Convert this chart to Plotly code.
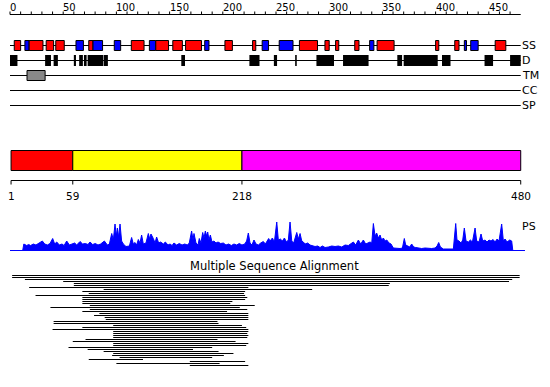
import plotly.graph_objects as go

# ---------------- data ----------------
seq_len = 480
ruler_ticks = list(range(0, 480, 10))
ruler_labels = list(range(0, 451, 50))

# secondary structure: H = helix (red), E = strand (blue)
ss_start = [4, 14, 18, 34, 43, 62, 74, 78, 98, 114, 131, 137, 153, 165, 183, 202, 228, 237,
            253, 272, 296, 306, 324, 338, 345, 400, 418, 427, 433, 456]
ss_end = [10, 18, 31, 41, 51, 69, 78, 87, 104, 126, 137, 149, 162, 180, 187, 209, 231, 243,
          266, 289, 300, 309, 328, 342, 361, 403, 422, 429, 440, 466]
ss_type = ["H", "E", "H", "H", "H", "E", "H", "E", "E", "H", "E", "H", "H", "H", "E", "H", "H", "E",
           "E", "H", "H", "H", "H", "E", "H", "H", "H", "E", "E", "H"]

# disorder
dis_start = [0, 33, 41, 60, 65, 69.5, 73, 88, 161, 225, 248, 268, 288, 313, 364, 370, 406, 446, 470]
dis_end = [7, 38.5, 45, 62, 68.5, 72, 87.5, 92, 164.5, 234.5, 251, 269.5, 304.5, 337, 368.5, 402, 414, 454, 480]

# transmembrane
tm_start = [16]
tm_end = [33]

track_names = ["SS", "D", "TM", "CC", "SP"]

# domains
domain_bounds = [1, 59, 218, 480]

# PS profile
ps_pos = [12, 13, 15.7, 17.5, 19.4, 21.9, 24.4, 26.6, 30.4, 32.6, 35.1, 37.6, 40.1, 42, 43.9, 46.4,
          48.9, 50.8, 53.3, 55.8, 58.3, 60.8, 62.7, 65.8, 68.3, 70.8, 73.3, 75.2, 77.7, 80.2, 82.7,
          85.2, 88.7, 91.5, 93.4, 95.6, 97.1, 98.7, 99.9, 100.9, 102.1, 103.4, 104.9, 106.5, 109,
          112.2, 114.3, 115.9, 117.5, 119, 120.6, 122.2, 123.7, 125.3, 127.8, 130, 131.3, 132.5,
          134.7, 136.3, 137.8, 139.7, 141.6, 144.1, 146, 148.5, 150.4, 152.3, 154.1, 156.6, 159.1,
          161.7, 164.2, 166.7, 168.5, 170.7, 172, 172.9, 174.8, 176.7, 177.9, 179.5, 181.1, 182.3,
          183.6, 184.8, 185.8, 187, 188.3, 189.8, 191.7, 193.6, 195.5, 198, 200.5, 203, 205.5, 208,
          210.5, 213, 215.5, 218, 220.6, 222.4, 224, 225.6, 227.4, 229.3, 231.2, 233.4, 235.6,
          238.1, 240, 241.9, 243.1, 244.4, 246.6, 248.5, 250.7, 252.2, 254.1, 256, 257.9, 259.8,
          261.6, 263.2, 264.8, 266.6, 267.9, 269.5, 271, 272.6, 274.2, 275.7, 277.3, 279.8, 282,
          284.2, 286.7, 289.2, 291.4, 293.6, 296.1, 299.2, 302.4, 305.5, 308.6, 311.8, 314.9, 318,
          320.5, 322.7, 324.9, 327.4, 329.6, 332.1, 334.3, 336.2, 338.4, 340, 341.5, 343.1, 344.6,
          346.2, 347.8, 349.3, 350.9, 352.5, 354.1, 356.2, 358.1, 360.3, 363.4, 366.6, 368.8, 370.6,
          371.9, 373.8, 375.7, 377.5, 379.4, 381.3, 383.8, 386.9, 390.1, 393.2, 396.3, 399.5, 401.4,
          402.9, 404.5, 407.3, 410.4, 413.6, 416.7, 418.9, 420.1, 422, 423.9, 425.5, 427, 428.6,
          430.8, 432.7, 434.6, 437.1, 438.6, 440.8, 442.7, 444.3, 446.5, 448.3, 450.2, 452.1, 454,
          455.9, 457.8, 459.6, 462.1, 463.7, 465.3, 467.1, 469.7, 471.5, 472.5]
ps_val = [0, 6, 4.5, 5.5, 4.5, 6, 5, 6.5, 9, 6, 5, 6.5, 11.5, 6, 8, 5,
          6, 4.5, 9, 5, 6, 7, 5, 8.5, 6, 6.5, 5.5, 8, 5.5, 6.5, 5,
          6, 9, 5, 6, 16.5, 10, 26, 14, 22, 13, 26, 9, 6, 3.5,
          4, 12.5, 6, 7.5, 5, 10.5, 7, 15, 6, 7, 16.5, 11, 16,
          11.5, 7, 13, 7, 8, 6, 8, 5, 6, 4.5, 7, 5, 6.5,
          5, 6, 5, 7, 19, 10, 16.5, 7, 5, 11.5, 7, 17.5, 12,
          19, 14, 18, 10, 15, 8, 9, 7, 8, 6.5, 7, 5, 6, 4.5,
          6, 5, 6.5, 5, 6, 9, 17, 7, 5, 10, 6, 5, 7,
          8.5, 6, 10, 11.5, 9, 12, 8, 28, 10, 11, 9, 12, 8,
          10, 28, 9, 7, 11, 17.5, 11, 16.5, 9, 8, 6, 7, 5,
          4.5, 3.5, 4, 2.5, 4, 2.5, 3, 4, 3.5, 4, 3, 5, 4.5,
          6, 8, 5, 10, 6, 10, 6, 7, 8, 7, 26.5, 14, 17,
          12, 15, 10, 12, 9, 10, 7, 6, 2, 1.5, 1.5, 2, 11.5,
          5, 4, 3, 6, 3, 2.5, 2, 1.5, 2, 1.5, 1.5, 2, 4,
          7.5, 3, 1, 1, 0.5, 1, 26.5, 10, 9, 7, 10, 22, 9,
          8, 10, 8, 22, 9, 8, 16, 9, 10, 8, 10, 9, 10.5,
          8, 11, 9, 26, 9, 11, 8, 10, 9, 0]

# multiple sequence alignment hits (residue start / end)
msa_start = [2, 2, 14, 50, 60, 60, 18, 88, 68, 74, 24, 68, 68, 68, 68, 75, 38, 75, 68, 84, 79, 89, 90,
             41, 41, 97, 68, 40, 97, 97, 97, 97, 71, 59, 97, 97, 55, 73, 88, 97, 96, 103, 74, 169,
             100, 169]
msa_end = [479, 479, 472, 469, 357, 356, 224, 284, 221, 220, 221, 223, 221, 209, 207, 230, 216, 223,
           204, 224, 224, 224, 224, 195, 196, 218, 222, 224, 224, 223, 224, 223, 195, 212, 224, 222,
           190, 172, 196, 210, 201, 190, 125, 221, 197, 224]

# ---------------- layout helpers ----------------
W, H = 550, 387
PX0, PXS = 10.0, 1.064           # residue -> pixel mapping of the x axis
xr = [(0 - PX0) / PXS, (W - PX0) / PXS]

FONT = "DejaVu Sans"
track_y = [45.5, 60.5, 75.5, 90.5, 105.5]
ss_colors = {"H": "#FF0000", "E": "#0000FF"}
domain_colors = ["#FF0000", "#FFFF00", "#FF00FF"]

shapes = []
annotations = []

# top ruler
ruler_y = 14.5
shapes.append(dict(type="line", x0=0, x1=seq_len, y0=ruler_y, y1=ruler_y,
                   line=dict(color="black", width=1)))
for t in ruler_ticks:
    shapes.append(dict(type="line", x0=t, x1=t, y0=ruler_y, y1=ruler_y - 3,
                       line=dict(color="black", width=1)))
for t in ruler_labels:
    annotations.append(dict(x=t, y=7.5, text=str(t), showarrow=False, xanchor="left",
                            yanchor="middle", xshift=-2,
                            font=dict(family=FONT, size=10, color="black")))

# track lines and labels
for name, y in zip(track_names, track_y):
    shapes.append(dict(type="line", x0=0, x1=seq_len, y0=y, y1=y,
                       line=dict(color="black", width=1)))
    annotations.append(dict(x=seq_len, y=y, text=name, showarrow=False, xanchor="left",
                            yanchor="middle", xshift=-1,
                            font=dict(family=FONT, size=11, color="black")))

# SS boxes
for s, e, t in zip(ss_start, ss_end, ss_type):
    shapes.append(dict(type="rect", x0=s, x1=e, y0=40.5, y1=50.5,
                       fillcolor=ss_colors[t], line=dict(color="black", width=1)))
# disorder boxes
for s, e in zip(dis_start, dis_end):
    shapes.append(dict(type="rect", x0=s, x1=e, y0=55, y1=66,
                       fillcolor="black", line=dict(width=0)))
# TM boxes
for s, e in zip(tm_start, tm_end):
    shapes.append(dict(type="rect", x0=s, x1=e, y0=70.5, y1=80.5,
                       fillcolor="#888888", line=dict(color="black", width=1)))

# domain bar
for i in range(len(domain_bounds) - 1):
    shapes.append(dict(type="rect", x0=domain_bounds[i], x1=domain_bounds[i + 1],
                       y0=150.5, y1=170.5, fillcolor=domain_colors[i],
                       line=dict(color="black", width=1)))
axis_y = 180.5
shapes.append(dict(type="line", x0=domain_bounds[0], x1=domain_bounds[-1], y0=axis_y, y1=axis_y,
                   line=dict(color="black", width=1)))
for b in domain_bounds:
    shapes.append(dict(type="line", x0=b, x1=b, y0=axis_y, y1=axis_y + 4,
                       line=dict(color="black", width=1)))
    annotations.append(dict(x=b, y=196, text=str(b), showarrow=False, xanchor="center",
                            yanchor="middle", font=dict(family=FONT, size=10.5, color="black")))

# PS baseline + label
shapes.append(dict(type="line", x0=0, x1=484, y0=250.5, y1=250.5,
                   line=dict(color="#0000FF", width=1)))
annotations.append(dict(x=seq_len, y=226, text="PS", showarrow=False, xanchor="left",
                        yanchor="middle", xshift=-1, font=dict(family=FONT, size=11, color="black")))

# MSA title
annotations.append(dict(x=(274 - PX0) / PXS, y=265.5, text="Multiple Sequence Alignment",
                        showarrow=False, xanchor="center", yanchor="middle",
                        font=dict(family=FONT, size=11.5, color="black")))

# ---------------- traces ----------------
fig = go.Figure()

# PS profile (own y axis: 0 at pixel 250, 28 at pixel 222)
y2_dom = [(H - 250) / H, (H - 222) / H]
fig.add_trace(go.Scatter(x=ps_pos, y=ps_val, mode="lines", fill="tozeroy",
                         fillcolor="#0000FF", line=dict(color="#0000FF", width=1),
                         xaxis="x", yaxis="y2", hoverinfo="skip", showlegend=False))

# MSA lines
mx, my = [], []
for i, (s, e) in enumerate(zip(msa_start, msa_end)):
    yy = 275.5 + 2 * i
    mx += [s, e, None]
    my += [yy, yy, None]
fig.add_trace(go.Scatter(x=mx, y=my, mode="lines", line=dict(color="black", width=1),
                         hoverinfo="skip", showlegend=False))

fig.update_layout(
    width=W, height=H, autosize=False,
    margin=dict(l=0, r=0, t=0, b=0, pad=0),
    paper_bgcolor="white", plot_bgcolor="white",
    xaxis=dict(range=xr, visible=False, showgrid=False, zeroline=False, fixedrange=True),
    yaxis=dict(range=[H, 0], visible=False, showgrid=False, zeroline=False, fixedrange=True,
               domain=[0, 1]),
    yaxis2=dict(range=[0, 28], domain=y2_dom, visible=False, showgrid=False, zeroline=False,
                fixedrange=True, overlaying=None, anchor="x"),
    shapes=shapes,
    annotations=annotations,
    showlegend=False,
)

fig.write_html("out.html", config={"displayModeBar": False, "staticPlot": True})
